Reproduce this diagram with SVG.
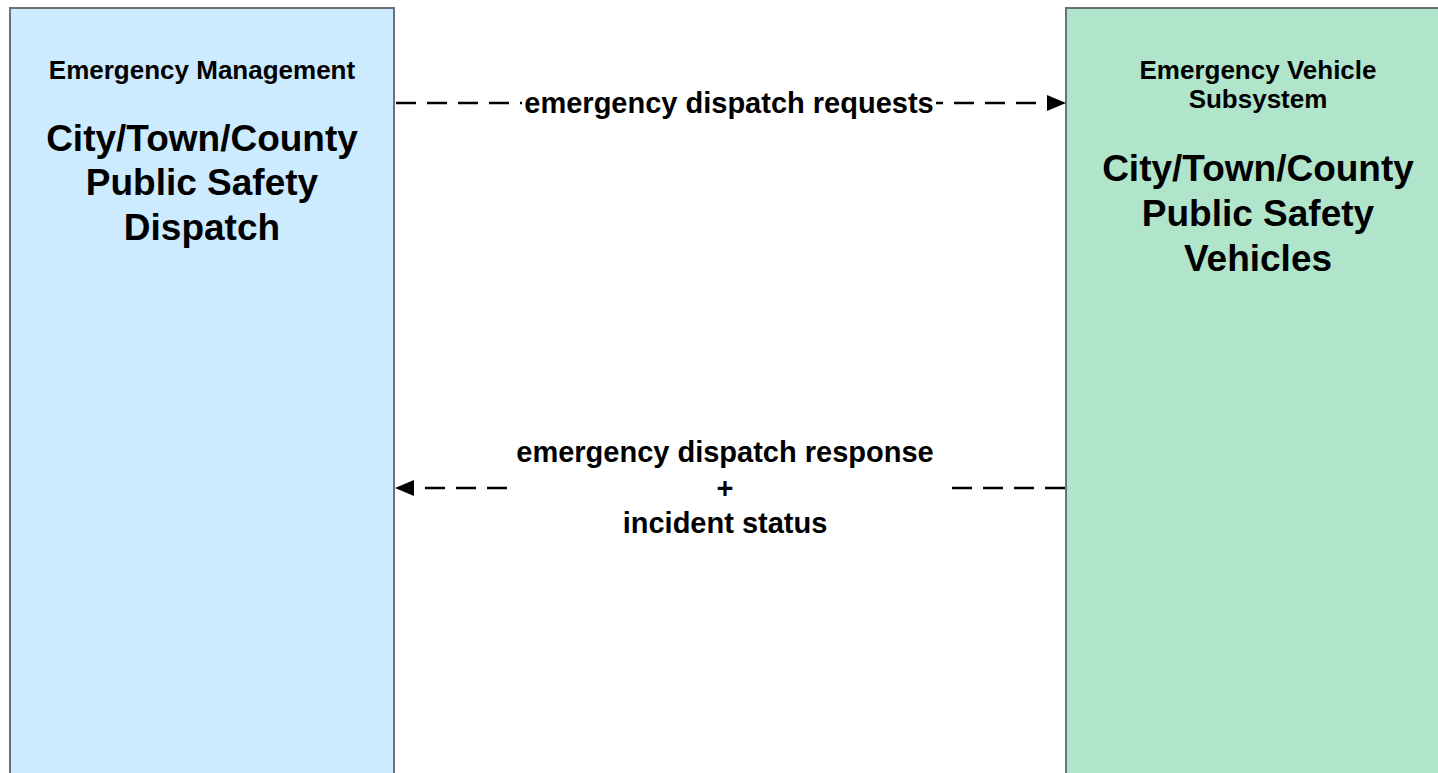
<svg xmlns="http://www.w3.org/2000/svg" width="1438" height="773" viewBox="0 0 1438 773">
<style>
.box{stroke:#6d7175;stroke-width:2}
.sub{font-family:"Liberation Sans",Arial,sans-serif;font-weight:bold;font-size:26px;text-anchor:middle;fill:#000}
.ttl{font-family:"Liberation Sans",Arial,sans-serif;font-weight:bold;font-size:37px;text-anchor:middle;fill:#000}
.lbl{font-family:"Liberation Sans",Arial,sans-serif;font-weight:bold;font-size:29px;text-anchor:middle;fill:#000}
.flow{stroke:#000;stroke-width:2.5;stroke-dasharray:20 11;fill:none}
</style>
<rect width="1438" height="773" fill="#fff"/>
<g id="node-dispatch">
<rect class="box" x="10" y="8" width="384" height="790" fill="#CCEBFF"/>
<text class="sub" x="202" y="79">Emergency Management</text>
<text class="ttl" x="202" y="151">City/Town/County</text>
<text class="ttl" x="202" y="195">Public Safety</text>
<text class="ttl" x="202" y="240">Dispatch</text>
</g>
<g id="node-vehicles">
<rect class="box" x="1066" y="8" width="400" height="790" fill="#B0E5CC"/>
<text class="sub" x="1258" y="79">Emergency Vehicle</text>
<text class="sub" x="1258" y="108">Subsystem</text>
<text class="ttl" x="1258" y="181">City/Town/County</text>
<text class="ttl" x="1258" y="226">Public Safety</text>
<text class="ttl" x="1258" y="271">Vehicles</text>
</g>
<g id="connectors">
<g id="flow-requests">
<line class="flow" x1="396" y1="103" x2="1050" y2="103"/>
<path d="M1066,103 L1047,95 L1047,111 Z" fill="#000"/>
<rect x="522" y="88" width="414" height="30" fill="#fff"/>
<text class="lbl" x="729" y="113">emergency dispatch requests</text>
</g>
<g id="flow-response">
<line class="flow" x1="1065" y1="488" x2="410" y2="488"/>
<path d="M395,488 L414,480 L414,496 Z" fill="#000"/>
<rect x="515" y="436" width="434" height="104" fill="#fff"/>
<text class="lbl" x="725" y="462">emergency dispatch response</text>
<text class="lbl" x="725" y="498">+</text>
<text class="lbl" x="725" y="533">incident status</text>
</g>
</g>
</svg>
